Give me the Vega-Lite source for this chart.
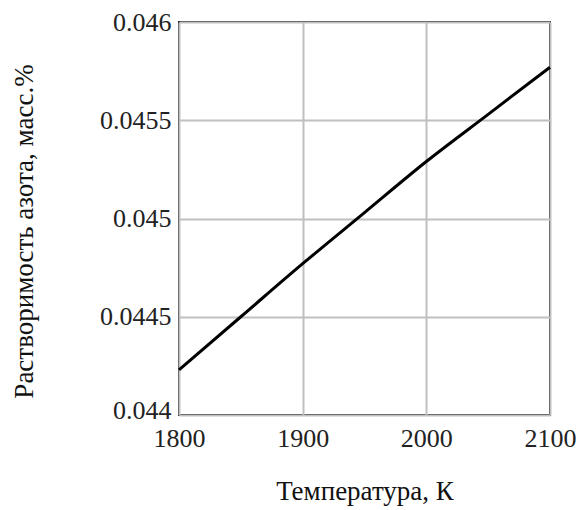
{
  "$schema": "https://vega.github.io/schema/vega-lite/v6.json",
  "autosize": {"type": "none"},
  "padding": {"left": 179, "top": 22, "right": 32, "bottom": 95},
  "width": 371,
  "height": 393,
  "background": "white",
  "config": {
    "view": {"stroke": "#1a1a1a", "strokeWidth": 2},
    "axis": {
      "labelFont": "Liberation Serif",
      "labelFontSize": 26,
      "labelColor": "#222",
      "titleFont": "Liberation Serif",
      "titleFontSize": 27,
      "titleFontWeight": "normal",
      "titleColor": "#111",
      "gridColor": "#c0c0c0",
      "gridWidth": 2,
      "gridOpacity": 1,
      "ticks": false,
      "domain": false
    }
  },
  "data": {
    "values": [
      {"T": 1800, "N": 0.04423},
      {"T": 1850, "N": 0.04450},
      {"T": 1900, "N": 0.04477},
      {"T": 1950, "N": 0.04503},
      {"T": 2000, "N": 0.04529},
      {"T": 2050, "N": 0.04553},
      {"T": 2100, "N": 0.04577}
    ]
  },
  "mark": {"type": "line", "color": "black", "strokeWidth": 3, "interpolate": "monotone"},
  "encoding": {
    "x": {
      "field": "T", "type": "quantitative",
      "scale": {"domain": [1800, 2100], "nice": false, "zero": false},
      "axis": {"values": [1800, 1900, 2000, 2100], "title": "Температура, К", "labelPadding": 10, "titlePadding": 27, "format": "d", "labelFlush": false}
    },
    "y": {
      "field": "N", "type": "quantitative",
      "scale": {"domain": [0.044, 0.046], "nice": false, "zero": false},
      "axis": {"values": [0.044, 0.0445, 0.045, 0.0455, 0.046], "format": ".4~f", "title": "Растворимость азота, масс.%", "labelPadding": 8, "titlePadding": 61, "titleY": 209, "labelFlush": false,
        "labelOffset": {"condition": {"test": "datum.value < 0.04401", "value": -5}, "value": 0}}
    }
  }
}
